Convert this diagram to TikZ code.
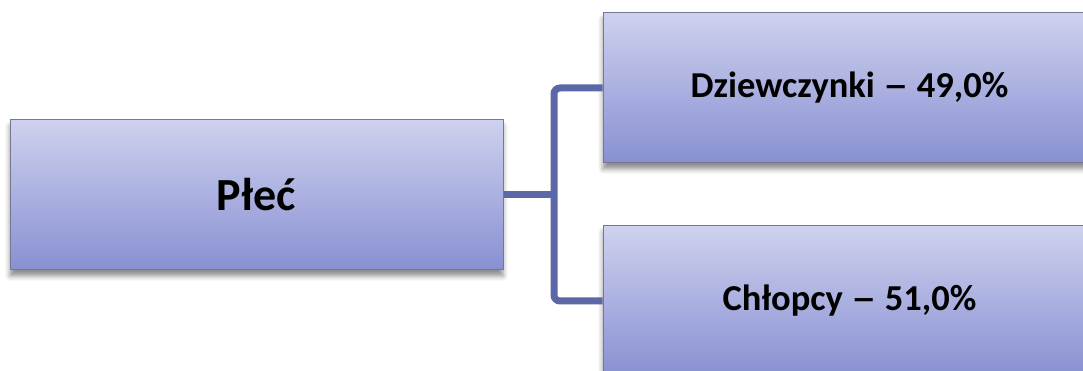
\documentclass[tikz,border=0pt]{standalone}
\usepackage{fontspec}
\usepackage{graphicx}
\setmainfont{Carlito}
\usetikzlibrary{shadows.blur}
\definecolor{boxtop}{RGB}{206,209,238}
\definecolor{boxbot}{RGB}{136,144,210}
\definecolor{boxedge}{RGB}{118,120,145}
\definecolor{connc}{RGB}{91,103,166}
\newcommand{\longdash}{\scalebox{1.4}[1]{–}}
\tikzset{
  box/.style={draw=boxedge, line width=1pt, top color=boxtop, bottom color=boxbot,
    minimum width=493pt, minimum height=150pt, inner sep=0pt, text=black,
    blur shadow={shadow xshift=0pt, shadow yshift=-6pt, shadow blur radius=5pt, shadow opacity=45}},
  conn/.style={draw=connc, line width=7pt, rounded corners=6pt}
}
\begin{document}
\begin{tikzpicture}[x=1pt,y=1pt]
\useasboundingbox (0,0) rectangle (1083,371);
\clip (0,0) rectangle (1083,371);
\node[box, font=\fontsize{46}{50}\selectfont\bfseries] (plec) at (256.5,176) {Płeć};
\node[box, font=\fontsize{36.5}{42}\selectfont\bfseries] (dz) at (849.5,283) {Dziewczynki \longdash{} 49,0\%};
\node[box, font=\fontsize{36.5}{42}\selectfont\bfseries] (ch) at (849.5,70) {Chłopcy \longdash{} 51,0\%};
\coordinate (mid) at (554,176);
\draw[conn] (plec.east) -- (mid);
\draw[conn] (dz.west) -| (mid) |- (ch.west);
\end{tikzpicture}
\end{document}
